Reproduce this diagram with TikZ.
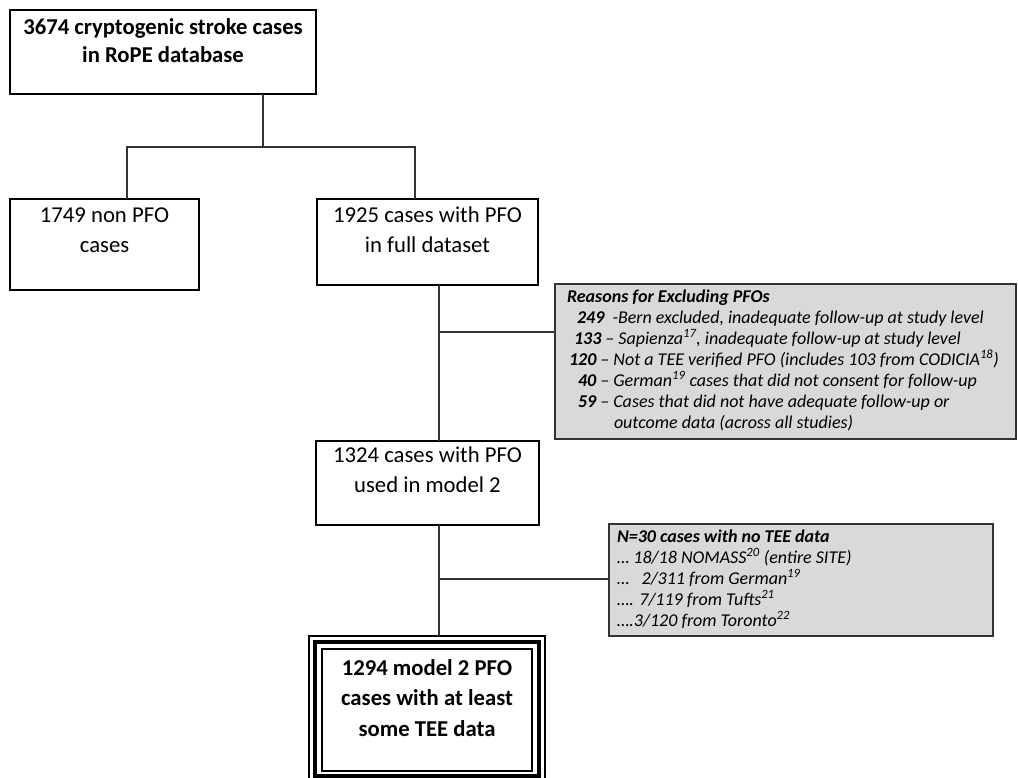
\documentclass[tikz,border=0pt]{standalone}
\usepackage{fontspec}
\setmainfont{Carlito}
\usetikzlibrary{calc}
\definecolor{boxgray}{HTML}{D9D9D9}
\definecolor{linegray}{HTML}{333333}
\tikzset{
  box/.style={draw=black, line width=1.4pt, inner sep=0pt, outer sep=0pt, anchor=north west, fill=white},
  thickbox/.style={box, line width=2.8pt},
  graybox/.style={draw=black!80, fill=boxgray, line width=1.4pt, inner sep=0pt, outer sep=0pt, anchor=north west},
  conn/.style={draw=linegray, line width=1.4pt},
  thinframe/.style={draw=black, line width=1.4pt}
}
\newcommand{\mainfont}{\fontsize{22.7pt}{30pt}\selectfont}
\newcommand{\smallfont}{\fontsize{18pt}{21pt}\selectfont\itshape}
\newcommand{\ind}[2]{\mbox{\hspace*{#1}#2}}
\begin{document}
\begin{tikzpicture}[x=1pt,y=-1pt]
\useasboundingbox (0,0) rectangle (1018,777);
% boxes
\node[box] (top) at (10,10) {\parbox[t][84pt][t]{306pt}{\centering\mainfont\bfseries\baselineskip=28pt
  \rule{0pt}{24pt}3674 cryptogenic stroke cases\\in RoPE database}};
\node[box] (n1749) at (10,199) {\parbox[t][91pt][t]{189pt}{\centering\mainfont
  \rule{0pt}{23pt}1749 non PFO\\cases}};
\node[thickbox] (n1925) at (317,199) {\parbox[t][86pt][t]{221pt}{\centering\mainfont
  \rule{0pt}{23pt}1925 cases with PFO\\in full dataset}};
\node[thickbox] (n1324) at (316,441) {\parbox[t][84pt][t]{223pt}{\centering\mainfont
  \rule{0pt}{21pt}1324 cases with PFO\\used in model 2}};
\node[graybox] (reasons) at (555,284) {\parbox[t][155pt][t]{461pt}{\raggedright\smallfont
  \rule{0pt}{18pt}\ind{12pt}{\textbf{Reasons for Excluding PFOs}}\\
  \ind{22pt}{\textbf{249}\ \ -Bern excluded, inadequate follow-up at study level}\\
  \ind{19pt}{\textbf{133} – Sapienza\textsuperscript{17}, inadequate follow-up at study level}\\
  \ind{14pt}{\textbf{120} – Not a TEE verified PFO (includes 103 from CODICIA\textsuperscript{18})}\\
  \ind{23pt}{\textbf{40} – German\textsuperscript{19} cases that did not consent for follow-up}\\
  \ind{23pt}{\textbf{59} – Cases that did not have adequate follow-up or}\\
  \ind{59pt}{outcome data (across all studies)}}};
\node[graybox] (n30) at (609,524) {\parbox[t][112pt][t]{384pt}{\raggedright\smallfont
  \rule{0pt}{18pt}\ind{8pt}{\textbf{N=30 cases with no TEE data}}\\
  \ind{8pt}{… 18/18 NOMASS\textsuperscript{20} (entire SITE)}\\
  \ind{8pt}{…\ \ \ 2/311 from German\textsuperscript{19}}\\
  \ind{8pt}{…. 7/119 from Tufts\textsuperscript{21}}\\
  \ind{8pt}{….3/120 from Toronto\textsuperscript{22}}}};
\node[box, line width=4.5pt] (final) at (315,642) {\parbox[t][134pt][t]{224pt}{\centering\mainfont\bfseries\baselineskip=30.5pt
  \rule{0pt}{33pt}1294 model 2 PFO\\cases with at least\\some TEE data}};
\draw[thinframe] ([xshift=-6pt,yshift=6pt]final.north west) rectangle ([xshift=6pt,yshift=-6pt]final.south east);
\draw[thinframe] ([xshift=7pt,yshift=-7pt]final.north west) rectangle ([xshift=-7pt,yshift=5pt]final.south east);
% connectors
\coordinate (j1) at (263,147);
\coordinate (h1) at (127,147);
\coordinate (h2) at (415,147);
\coordinate (sp) at (439,0);
\coordinate (b1) at (439,332);
\coordinate (b2) at (439,579);
\draw[conn] (j1 |- top.south) -- (j1);
\draw[conn] (h1 |- n1749.north) -- (h1) -- (h2) -- (h2 |- n1925.north);
\draw[conn] (sp |- n1925.south) -- (sp |- n1324.north);
\draw[conn] (sp |- n1324.south) -- ([yshift=6pt]sp |- final.north);
\draw[conn] (b1) -- (b1 -| reasons.west);
\draw[conn] (b2) -- (b2 -| n30.west);
\end{tikzpicture}
\end{document}
